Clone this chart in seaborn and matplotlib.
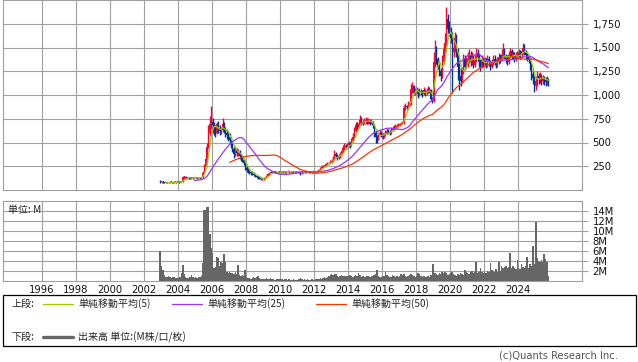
import numpy as np
import pandas as pd
import matplotlib
matplotlib.use("Agg")
import matplotlib.pyplot as plt
from matplotlib.lines import Line2D
from matplotlib.patches import Rectangle
from matplotlib.ticker import FixedLocator, FixedFormatter
import seaborn as sns

# === monthly OHLC (price) and volume (M shares), Dec 2002 - Oct 2025 ===
first_month = "2002-12"

close_px = [
    85,
    90, 82, 78, 80, 76, 80, 84, 82, 80, 85, 82, 86,
    84, 86, 88, 135, 140, 125, 130, 128, 125, 130, 128, 132,
    130, 128, 132, 128, 135, 180, 240, 330, 450, 600, 700, 720,
    680, 640, 600, 690, 650, 620, 630, 700, 640, 600, 580, 560,
    530, 480, 430, 380, 420, 390, 400, 360, 340, 320, 280, 230,
    210, 200, 185, 180, 170, 160, 150, 140, 135, 120, 115, 118,
    120, 130, 150, 165, 180, 190, 185, 190, 188, 185, 190, 188,
    190, 195, 192, 188, 195, 200, 190, 185, 190, 195, 192, 190,
    190, 195, 180, 185, 190, 188, 192, 195, 190, 185, 188, 190,
    192, 195, 200, 210, 230, 245, 250, 260, 270, 280, 285, 300,
    300, 330, 380, 360, 340, 350, 380, 410, 440, 460, 450, 470,
    490, 470, 520, 560, 620, 680, 660, 700, 740, 720, 700, 730,
    740, 720, 730, 700, 720, 680, 600, 560, 540, 580, 600, 590,
    560, 580, 600, 620, 610, 600, 630, 640, 650, 660, 670, 680,
    690, 700, 710, 860, 880, 870, 900, 920, 1060, 1100, 1020, 1040,
    1050, 1000, 1040, 1030, 1010, 1050, 1020, 1040, 1060, 1050, 960, 940,
    1350, 1500, 1380, 1300, 1250, 1200, 1350, 1480, 1550, 1800, 1700, 1650,
    1600, 1450, 1500, 1600, 1450, 1300, 1200, 1150, 1250, 1380, 1300, 1350,
    1380, 1420, 1350, 1400, 1320, 1380, 1440, 1400, 1350, 1300, 1380, 1340,
    1360, 1320, 1380, 1350, 1300, 1340, 1380, 1360, 1320, 1350, 1400, 1380,
    1420, 1460, 1400, 1380, 1350, 1420, 1460, 1400, 1430, 1380, 1410, 1420,
    1440, 1420, 1460, 1500, 1450, 1420, 1400, 1380, 1300, 1220, 1180, 1100,
    1150, 1200, 1180, 1200, 1150, 1180, 1160, 1140, 1170, 1130,
]

open_px = [
    95,
    85, 90, 82, 78, 80, 76, 80, 84, 82, 80, 85, 82,
    86, 84, 86, 90, 135, 140, 125, 130, 128, 125, 130, 128,
    132, 130, 128, 132, 128, 135, 180, 240, 330, 450, 600, 700,
    720, 680, 640, 600, 690, 650, 620, 630, 700, 640, 600, 580,
    560, 530, 480, 430, 380, 420, 390, 400, 360, 340, 320, 280,
    230, 210, 200, 185, 180, 170, 160, 150, 140, 135, 120, 115,
    118, 120, 130, 150, 165, 180, 190, 185, 190, 188, 185, 190,
    188, 190, 195, 192, 188, 195, 200, 190, 185, 190, 195, 192,
    190, 190, 195, 180, 185, 190, 188, 192, 195, 190, 185, 188,
    190, 192, 195, 200, 210, 230, 245, 250, 260, 270, 280, 285,
    300, 300, 330, 380, 360, 340, 350, 380, 410, 440, 460, 450,
    470, 490, 470, 520, 560, 620, 680, 660, 700, 740, 720, 700,
    730, 740, 720, 730, 700, 720, 680, 600, 560, 540, 580, 600,
    590, 560, 580, 600, 620, 610, 600, 630, 640, 650, 660, 670,
    680, 690, 700, 710, 860, 880, 870, 900, 920, 1060, 1100, 1020,
    1040, 1050, 1000, 1040, 1030, 1010, 1050, 1020, 1040, 1060, 1050, 960,
    940, 1350, 1500, 1380, 1300, 1250, 1200, 1350, 1480, 1550, 1800, 1700,
    1650, 1600, 1450, 1500, 1600, 1450, 1300, 1200, 1150, 1250, 1380, 1300,
    1350, 1380, 1420, 1350, 1400, 1320, 1380, 1440, 1400, 1350, 1300, 1380,
    1340, 1360, 1320, 1380, 1350, 1300, 1340, 1380, 1360, 1320, 1350, 1400,
    1380, 1420, 1460, 1400, 1380, 1350, 1420, 1460, 1400, 1430, 1380, 1410,
    1420, 1440, 1420, 1460, 1500, 1450, 1420, 1400, 1380, 1300, 1220, 1180,
    1100, 1150, 1200, 1180, 1200, 1150, 1180, 1160, 1140, 1170,
]

high_px = [
    105,
    98, 92, 86, 85, 82, 86, 90, 88, 86, 90, 88, 90,
    90, 90, 95, 150, 150, 145, 138, 135, 135, 138, 135, 140,
    140, 138, 140, 138, 142, 200, 270, 370, 500, 680, 780, 885,
    760, 720, 680, 720, 730, 680, 660, 760, 720, 660, 640, 620,
    600, 560, 500, 450, 460, 440, 430, 420, 380, 360, 340, 300,
    250, 230, 215, 200, 195, 185, 170, 160, 150, 145, 130, 128,
    135, 140, 160, 175, 190, 200, 200, 198, 200, 196, 198, 200,
    200, 205, 205, 200, 205, 210, 205, 198, 198, 205, 205, 200,
    200, 205, 200, 195, 200, 198, 200, 205, 200, 195, 196, 198,
    200, 205, 210, 225, 245, 260, 265, 275, 285, 295, 300, 320,
    330, 360, 420, 400, 380, 375, 400, 430, 470, 490, 480, 500,
    520, 510, 550, 600, 660, 720, 720, 740, 790, 770, 740, 760,
    770, 760, 760, 750, 750, 730, 690, 620, 580, 610, 630, 620,
    600, 600, 630, 650, 640, 630, 660, 670, 680, 690, 700, 710,
    710, 720, 730, 900, 915, 900, 940, 960, 1120, 1140, 1110, 1070,
    1080, 1060, 1070, 1060, 1050, 1080, 1060, 1070, 1090, 1080, 1060, 980,
    1450, 1580, 1520, 1400, 1330, 1280, 1420, 1550, 1650, 1925, 1850, 1780,
    1720, 1660, 1560, 1660, 1640, 1500, 1340, 1280, 1300, 1430, 1420, 1400,
    1450, 1480, 1460, 1450, 1430, 1420, 1490, 1480, 1440, 1380, 1420, 1400,
    1400, 1390, 1420, 1410, 1370, 1380, 1420, 1420, 1380, 1400, 1440, 1430,
    1480, 1550, 1500, 1430, 1420, 1460, 1500, 1480, 1460, 1450, 1450, 1460,
    1480, 1470, 1500, 1545, 1540, 1470, 1450, 1420, 1400, 1340, 1260, 1200,
    1200, 1250, 1230, 1240, 1220, 1210, 1200, 1190, 1200, 1180,
]

low_px = [
    78,
    78, 76, 72, 74, 70, 74, 78, 76, 75, 78, 77, 80,
    78, 80, 84, 86, 118, 112, 120, 118, 115, 120, 120, 122,
    122, 120, 122, 120, 124, 130, 170, 230, 320, 440, 580, 640,
    600, 580, 560, 590, 600, 580, 590, 610, 600, 560, 540, 520,
    480, 440, 400, 340, 360, 360, 360, 330, 310, 300, 260, 210,
    190, 180, 170, 160, 155, 145, 135, 125, 120, 112, 105, 108,
    110, 118, 125, 145, 160, 175, 175, 180, 178, 175, 180, 180,
    182, 185, 180, 178, 182, 188, 180, 175, 180, 182, 180, 180,
    180, 182, 160, 172, 180, 178, 182, 185, 178, 175, 178, 180,
    182, 185, 190, 195, 205, 225, 235, 245, 255, 265, 270, 280,
    280, 295, 320, 340, 320, 330, 340, 370, 400, 420, 430, 440,
    450, 440, 460, 510, 550, 610, 630, 650, 690, 680, 680, 690,
    700, 700, 690, 680, 690, 650, 560, 500, 495, 530, 570, 560,
    540, 545, 570, 590, 590, 580, 590, 620, 630, 640, 650, 660,
    670, 680, 690, 700, 840, 850, 850, 880, 900, 1020, 1000, 1000,
    1010, 970, 990, 1000, 980, 1000, 990, 1000, 1020, 1020, 940, 915,
    930, 1300, 1330, 1270, 1200, 1150, 1180, 1330, 1450, 1520, 1650, 1620,
    1550, 1020, 1400, 1450, 1400, 1160, 1050, 1100, 1130, 1220, 1260, 1280,
    1300, 1340, 1310, 1320, 1280, 1300, 1350, 1360, 1300, 1250, 1280, 1300,
    1310, 1280, 1300, 1310, 1260, 1280, 1320, 1320, 1280, 1300, 1330, 1340,
    1360, 1400, 1380, 1340, 1320, 1330, 1400, 1380, 1380, 1350, 1360, 1380,
    1390, 1380, 1400, 1430, 1420, 1380, 1360, 1340, 1260, 1160, 1120, 1035,
    1050, 1100, 1120, 1130, 1110, 1120, 1110, 1100, 1110, 1090,
]

volume_m = [
    6.0,
    3.0, 2.2, 1.2, 0.9, 0.8, 1.0, 0.8, 0.7, 0.8, 0.9, 0.6, 0.7,
    0.6, 0.8, 1.6, 3.2, 1.4, 0.8, 0.7, 0.6, 0.8, 1.2, 0.9, 0.7,
    0.8, 0.7, 0.9, 0.8, 1.0, 3.6, 14.2, 14.2, 14.8, 14.8, 9.4, 6.6,
    5.6, 2.6, 2.8, 4.8, 4.6, 3.0, 3.8, 3.6, 5.4, 3.8, 1.8, 1.6,
    1.8, 1.6, 1.6, 1.4, 1.8, 1.4, 3.2, 1.2, 1.0, 1.2, 1.0, 2.2,
    0.8, 0.6, 0.6, 0.5, 0.7, 0.8, 0.6, 0.9, 1.0, 0.6, 0.5, 0.4,
    0.4, 0.5, 0.6, 0.5, 0.4, 0.6, 0.5, 0.4, 0.3, 0.4, 0.5, 0.4,
    0.4, 0.5, 0.3, 0.4, 0.5, 0.3, 0.4, 0.3, 0.2, 0.4, 0.3, 0.3,
    0.3, 0.4, 0.7, 0.5, 0.3, 0.4, 0.3, 0.4, 0.3, 0.3, 0.4, 0.3,
    0.3, 0.4, 0.5, 0.4, 0.6, 0.5, 0.6, 0.8, 0.7, 0.9, 1.0, 1.2,
    1.4, 1.2, 1.5, 1.4, 1.0, 0.8, 1.0, 1.2, 1.1, 1.0, 1.1, 1.0,
    1.1, 1.2, 1.0, 0.9, 1.1, 1.2, 1.0, 1.6, 1.2, 0.9, 1.0, 0.8,
    0.8, 1.0, 1.1, 0.9, 1.0, 1.0, 1.2, 1.4, 2.2, 1.0, 0.8, 0.9,
    1.0, 1.1, 1.8, 1.2, 1.0, 0.8, 0.9, 1.2, 1.0, 0.8, 1.0, 0.9,
    1.0, 1.4, 1.2, 1.4, 1.1, 0.9, 1.0, 1.2, 1.4, 1.2, 1.0, 0.8,
    1.0, 1.6, 1.4, 1.0, 0.9, 1.0, 0.8, 0.9, 1.0, 0.8, 1.2, 3.4,
    3.4, 1.6, 1.4, 1.2, 1.6, 1.4, 1.8, 1.6, 1.8, 1.6, 1.2, 1.4,
    1.6, 1.8, 1.4, 1.2, 1.0, 1.4, 1.2, 1.6, 1.4, 1.2, 2.2, 1.8,
    1.6, 1.4, 1.8, 2.0, 1.6, 1.8, 3.8, 1.6, 1.8, 2.6, 1.8, 1.6,
    1.8, 1.6, 2.0, 1.8, 3.6, 2.2, 2.0, 1.8, 2.4, 1.8, 3.8, 2.0,
    3.0, 2.6, 2.8, 3.0, 2.6, 2.8, 5.6, 2.6, 3.0, 2.6, 2.4, 4.2,
    2.6, 2.4, 3.4, 2.8, 2.6, 3.0, 4.8, 2.6, 3.4, 3.0, 7.0, 3.4,
    11.8, 4.6, 4.0, 3.8, 4.2, 3.8, 5.4, 4.4, 3.8, 1.0,
]

price_ticks = [250, 500, 750, 1000, 1250, 1500, 1750]
volume_ticks = [2, 4, 6, 8, 10, 12, 14]
tick_years = [1996, 1998, 2000, 2002, 2004, 2006, 2008, 2010, 2012, 2014,
              2016, 2018, 2020, 2022, 2024]

ma_windows = [5, 25, 50]
ma_colors = ["#99cc00", "#9933ff", "#ff3300"]
up_color = "#ff0033"
down_color = "#003399"
grid_color = "#a0a0a0"
vol_color = "#666666"

assert len({len(close_px), len(open_px), len(high_px), len(low_px), len(volume_m)}) == 1

# === build the frame ===
dates = pd.date_range(first_month, periods=len(close_px), freq="MS") + pd.Timedelta(days=14)
df = pd.DataFrame({"date": dates, "open": open_px, "high": high_px,
                   "low": low_px, "close": close_px, "volume": volume_m})
for w in ma_windows:
    df[f"ma{w}"] = df["close"].rolling(w).mean()

# === figure layout (pixel boxes of the 638x362 original) ===
sns.set_style("white")
plt.rcParams["font.family"] = ["DejaVu Sans", "Noto Sans CJK JP"]
W, H = 638, 362
fig = plt.figure(figsize=(W / 100, H / 100), dpi=100)


def px_box(l, t, r, b):
    return [l / W, 1 - b / H, (r - l) / W, (b - t) / H]


ax = fig.add_axes(px_box(3, 0, 582, 190))
axv = fig.add_axes(px_box(3, 201, 582, 281), sharex=ax)

# === candles ===
up = df["close"] >= df["open"]
colors = np.where(up, up_color, down_color)
ax.vlines(df["date"], df["low"], df["high"], colors=colors, lw=1.0, zorder=3)
body = (df["close"] - df["open"]).abs().clip(lower=8)
ax.bar(df["date"], body, bottom=np.minimum(df["open"], df["close"]),
       width=24, color=colors, linewidth=0, zorder=3)

for w, c in zip(ma_windows, ma_colors):
    sns.lineplot(data=df, x="date", y=f"ma{w}", ax=ax, color=c, lw=0.9,
                 zorder=4, legend=False)

# === volume ===
axv.bar(df["date"], df["volume"], width=32, color=vol_color, linewidth=0, zorder=3)

# === axes styling ===
tick_dates = [pd.Timestamp(f"{y}-01-01") for y in tick_years]
for a in (ax, axv):
    a.set_xlim(pd.Timestamp("1993-09-16"), pd.Timestamp("2027-10-05"))
    a.xaxis.set_major_locator(FixedLocator([matplotlib.dates.date2num(d) for d in tick_dates]))
    a.grid(True, color=grid_color, lw=0.8, zorder=0)
    a.set_axisbelow(True)
    for s in a.spines.values():
        s.set_color(grid_color)
        s.set_linewidth(0.8)
    a.yaxis.tick_right()
    a.tick_params(axis="y", which="both", right=True, left=False, labelright=True,
                  labelleft=False, length=4.5, width=0.8, color=grid_color,
                  pad=3, labelsize=7.2, labelcolor="#111111")
    a.set_xlabel("")
    a.set_ylabel("")

ax.set_ylim(0, 2000)
ax.set_yticks(price_ticks)
ax.set_yticklabels([f"{v:,}" for v in price_ticks])
ax.tick_params(axis="x", length=0, labelbottom=False)

axv.set_ylim(0, 16)
axv.set_yticks(volume_ticks)
axv.yaxis.set_major_formatter(FixedFormatter([f"{v}M" for v in volume_ticks]))
axv.xaxis.set_major_formatter(FixedFormatter([str(y) for y in tick_years]))
axv.tick_params(axis="x", length=0, pad=3, labelsize=7.2, labelcolor="#111111")

jp = ["Noto Sans CJK JP", "DejaVu Sans"]
axv.text(0.009, 0.885, "単位: M", transform=axv.transAxes, fontsize=7.2,
         family=jp, va="center", ha="left", zorder=5)

# === legend box below the chart ===
fig.patches.append(Rectangle((3 / W, 1 - 346 / H), 633 / W, 51 / H,
                             transform=fig.transFigure, fill=False,
                             edgecolor="black", lw=0.9))


def fx(x):
    return x / W


def fy(y):
    return 1 - y / H


row1, row2 = 304, 337
fig.text(fx(12), fy(row1), "上段:", family=jp, fontsize=7.2, va="center")
ma_labels = ["単純移動平均(5)", "単純移動平均(25)", "単純移動平均(50)"]
line_x = [43, 172, 316]
for lx, c, lab in zip(line_x, ma_colors, ma_labels):
    fig.lines.append(Line2D([fx(lx), fx(lx + 30)], [fy(row1), fy(row1)],
                            transform=fig.transFigure, color=c, lw=0.9))
    fig.text(fx(lx + 35), fy(row1), lab, family=jp, fontsize=7.2, va="center")

fig.text(fx(12), fy(row2), "下段:", family=jp, fontsize=7.2, va="center")
fig.lines.append(Line2D([fx(43), fx(73)], [fy(row2), fy(row2)],
                        transform=fig.transFigure, color=vol_color, lw=2.4))
fig.text(fx(78), fy(row2), "出来高 単位:(M株/口/枚)", family=jp, fontsize=7.2, va="center")

fig.text(fx(618), fy(356), "(c)Quants Research Inc.", fontsize=7.2,
         color="#555555", ha="right", va="center")

fig.savefig("out.png", dpi=100)
plt.close(fig)
